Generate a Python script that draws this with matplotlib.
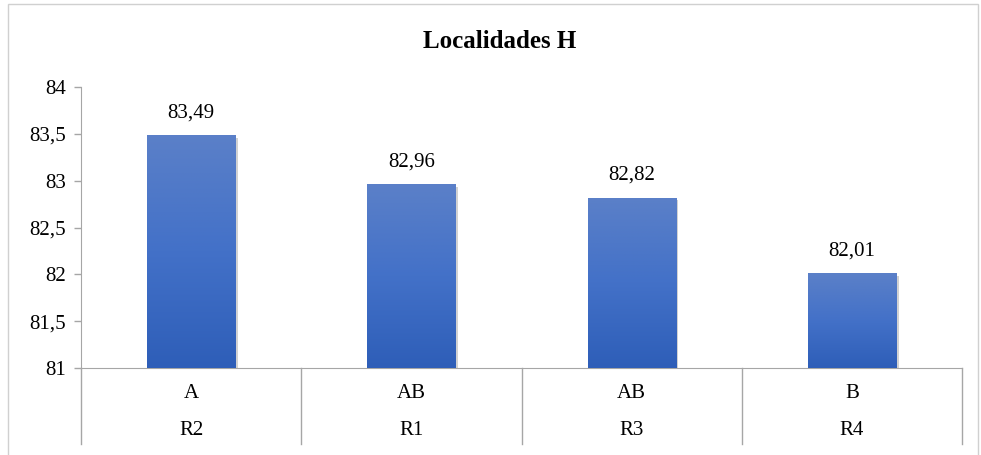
"""Bar chart with two-level category axis: Localidades H."""

import matplotlib.pyplot as plt
import matplotlib.patheffects as pe
import numpy as np
from matplotlib.colors import LinearSegmentedColormap
from matplotlib.patches import Rectangle
from matplotlib.ticker import FuncFormatter


TITLE = "Localidades H"
LOCALIDADES = ["R2", "R1", "R3", "R4"]
GRUPOS = ["A", "AB", "AB", "B"]
VALORES = [83.49, 82.96, 82.82, 82.01]
Y_TICKS = [81, 81.5, 82, 82.5, 83, 83.5, 84]

AXIS_GREY = "#A6A6A6"
GRADIENT = LinearSegmentedColormap.from_list("excel_blue", ["#2E5EB8", "#4371C8", "#5B80C8"])
FS = 15

plt.rcParams["font.family"] = ["Liberation Serif", "DejaVu Serif"]


def coma(value, _pos=None):
    text = f"{value:g}"
    return text.replace(".", ",")


def main():
    fig = plt.figure(figsize=(9.81, 4.55), dpi=100)
    ax = fig.add_axes([81 / 981, 1 - 368 / 455, 881 / 981, 281 / 455])

    # outer chart border like the Excel chart area
    fig.patches.append(Rectangle((8 / 981, -0.05), 970 / 981, 1.05 - 4 / 455,
                                 transform=fig.transFigure, fill=False,
                                 edgecolor="#D0D0D0", linewidth=1.0))

    x = np.arange(len(VALORES))
    bars = ax.bar(x, np.array(VALORES) - 81, bottom=81, width=0.4, color="#4472C4",
                  zorder=2, path_effects=[pe.SimplePatchShadow(offset=(2, -2), shadow_rgbFace="#808080",
                                                               alpha=0.35), pe.Normal()])

    gradient = np.linspace(0, 1, 256).reshape(-1, 1)
    for bar in bars:
        x0, y0 = bar.get_x(), bar.get_y()
        im = ax.imshow(gradient, cmap=GRADIENT, origin="lower", aspect="auto",
                       extent=(x0, x0 + bar.get_width(), y0, y0 + bar.get_height()), zorder=3)
        im.set_clip_path(bar)

    for xi, val in zip(x, VALORES):
        ax.annotate(coma(val), (xi, val), xytext=(0, 9), textcoords="offset points",
                    ha="center", va="bottom", fontsize=FS)

    ax.set_xlim(-0.5, len(VALORES) - 0.5)
    ax.set_ylim(81, 84)
    ax.set_yticks(Y_TICKS)
    ax.yaxis.set_major_formatter(FuncFormatter(coma))
    ax.tick_params(axis="y", length=5, width=1, color=AXIS_GREY, labelsize=FS, pad=6)
    ax.set_xticks([])

    for side in ["top", "right"]:
        ax.spines[side].set_visible(False)
    ax.spines["left"].set_color(AXIS_GREY)
    ax.spines["bottom"].set_color(AXIS_GREY)

    # two-level category axis
    trans = ax.get_xaxis_transform()
    for edge in np.arange(len(VALORES) + 1) - 0.5:
        ax.plot([edge, edge], [0, -0.27], transform=trans, color=AXIS_GREY,
                linewidth=1, clip_on=False)
    for xi, grupo, loc in zip(x, GRUPOS, LOCALIDADES):
        ax.text(xi, -0.0925, grupo, transform=trans, ha="center", va="center", fontsize=FS)
        ax.text(xi, -0.224, loc, transform=trans, ha="center", va="center", fontsize=FS)

    fig.text(500 / 981, 1 - 42 / 455, TITLE, ha="center", va="center", fontsize=18, fontweight="bold")

    fig.savefig("out.png", dpi=100)
    plt.close(fig)


if __name__ == "__main__":
    main()
